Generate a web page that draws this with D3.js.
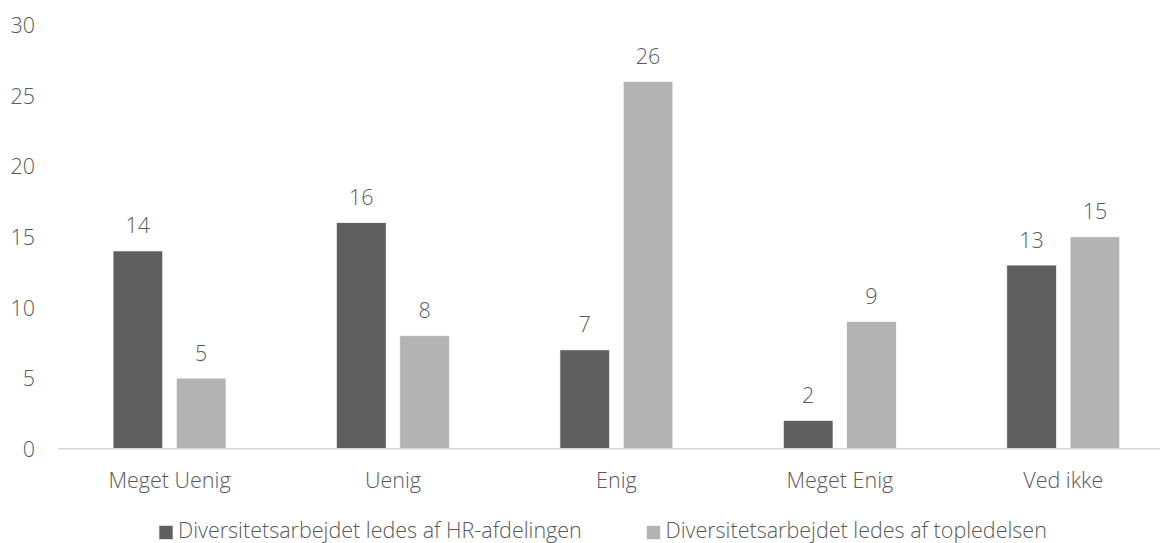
<!DOCTYPE html>
<html>
<head>
<meta charset="utf-8">
<script src="https://cdn.jsdelivr.net/npm/d3@7"></script>
<style>
  html, body { margin: 0; padding: 0; background: #ffffff; }
  svg { display: block; font-family: "Open Sans", "Noto Sans", sans-serif; font-weight: 300; }
</style>
</head>
<body>
<svg id="chart" width="1160" height="543"></svg>
<script>
// Survey answers: who leads the diversity work
const categories = ["Meget Uenig", "Uenig", "Enig", "Meget Enig", "Ved ikke"];
const seriesNames = [
  "Diversitetsarbejdet ledes af HR-afdelingen",
  "Diversitetsarbejdet ledes af topledelsen"
];
const hrValues = [14, 16, 7, 2, 13];
const topValues = [5, 8, 26, 9, 15];
const yTicks = [0, 5, 10, 15, 20, 25, 30];
const seriesColors = ["#5f5f5f", "#b3b3b3"];

const svg = d3.select("#chart");
const textColor = "#595959";
const fontSize = 21.5;

const x = d3.scaleBand()
  .domain(categories)
  .range([57.8, 1175])
  .paddingInner(0.4947)
  .paddingOuter(0.4947 / 2);

const xs = d3.scaleBand()
  .domain(seriesNames)
  .range([0, x.bandwidth()])
  .paddingInner(0.2165)
  .paddingOuter(0);

const y = d3.scaleLinear().domain([0, 30]).range([448.8, 24.9]);

const rows = categories.map((c, i) => ({
  category: c,
  values: [
    { series: seriesNames[0], value: hrValues[i], color: seriesColors[0] },
    { series: seriesNames[1], value: topValues[i], color: seriesColors[1] }
  ]
}));

// y axis labels (no line, no ticks)
const yAxis = d3.axisLeft(y).tickValues(yTicks).tickSize(0).tickPadding(0);
const yG = svg.append("g").attr("transform", "translate(35,0)").call(yAxis)
  .attr("font-family", null).attr("font-size", null);
yG.select(".domain").remove();
yG.selectAll("text")
  .attr("fill", textColor)
  .style("font-size", fontSize + "px")
  .attr("x", 0)
  .attr("dy", "0.36em");

// bars
const groups = svg.append("g").selectAll("g")
  .data(rows)
  .join("g")
  .attr("transform", d => `translate(${x(d.category)},0)`);

groups.selectAll("rect")
  .data(d => d.values)
  .join("rect")
  .attr("x", d => xs(d.series))
  .attr("width", xs.bandwidth())
  .attr("y", d => y(d.value))
  .attr("height", d => y(0) - y(d.value))
  .attr("fill", d => d.color)
  .attr("stroke", "#ffffff")
  .attr("stroke-width", 0.6);

// value labels
groups.selectAll("text")
  .data(d => d.values)
  .join("text")
  .attr("x", d => xs(d.series) + xs.bandwidth() / 2)
  .attr("y", d => y(d.value) - 17.6)
  .attr("text-anchor", "middle")
  .attr("fill", textColor)
  .style("font-size", fontSize + "px")
  .text(d => d.value);

// x axis: baseline plus category labels
const xAxis = d3.axisBottom(x).tickSize(0).tickPadding(0);
const xG = svg.append("g").attr("transform", `translate(0,${y(0)})`).call(xAxis)
  .attr("font-family", null).attr("font-size", null);
xG.select(".domain").remove();
xG.append("line")
  .attr("x1", 57.8).attr("x2", 1175)
  .attr("y1", 0).attr("y2", 0)
  .attr("stroke", "#d9d9d9")
  .attr("stroke-width", 1.6);
xG.selectAll(".tick text")
  .attr("fill", textColor)
  .attr("y", 488.3 - y(0))
  .attr("dy", 0)
  .style("font-size", fontSize + "px");

// legend
const legend = svg.append("g");
let lx = 159.3;
seriesNames.forEach((name, i) => {
  legend.append("rect")
    .attr("x", lx).attr("y", 525.8)
    .attr("width", 13.4).attr("height", 13.4)
    .attr("fill", seriesColors[i]);
  const t = legend.append("text")
    .attr("x", lx + 18.7)
    .attr("y", 537.6)
    .attr("fill", textColor)
    .style("font-size", fontSize + "px")
    .text(name);
  lx = lx + 18.7 + t.node().getComputedTextLength() + 65;
});
</script>
</body>
</html>
